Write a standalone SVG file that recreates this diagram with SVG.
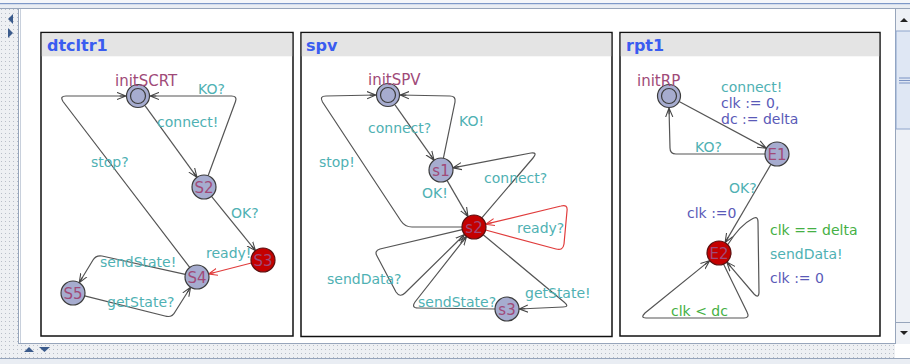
<svg xmlns="http://www.w3.org/2000/svg" width="910" height="364" viewBox="0 0 910 364">
<style>
.panel{fill:#fff;stroke:#111;stroke-width:1.5}
.hdr{fill:#e4e4e4}
.title{font-family:"DejaVu Sans",sans-serif;font-weight:bold;font-size:16px;fill:#3a5cf0}
.loc{fill:#a6accf;stroke:#3c3c3c;stroke-width:1.2}
.urg{fill:#c40000;stroke:#5a1010;stroke-width:1.2}
.inner{fill:none;stroke:#3c3c3c;stroke-width:1.2}
.nm{font-family:"DejaVu Sans",sans-serif;font-size:15px;fill:#a04a78}
.nc{font-family:"DejaVu Sans",sans-serif;font-size:15px;fill:#a04a78;text-anchor:middle}
.sy{font-family:"DejaVu Sans",sans-serif;font-size:14px;fill:#4fb1b3}
.gd{font-family:"DejaVu Sans",sans-serif;font-size:14px;fill:#45b045}
.up{font-family:"DejaVu Sans",sans-serif;font-size:14px;fill:#5a5ab8}
.e{fill:none;stroke:#555;stroke-width:1.2;marker-end:url(#ar)}
.er{fill:none;stroke:#e03c3c;stroke-width:1.2;marker-end:url(#arr)}
.chrome{fill:#eef1f6}
.cl{stroke:#97a5bb;stroke-width:1}
.tri{fill:#3b5b8c}
</style>
<defs>
<marker id="ar" viewBox="0 0 10 10" refX="10" refY="5" markerWidth="9" markerHeight="9" markerUnits="userSpaceOnUse" orient="auto">
<path d="M0,1 L10,5 L0,9 M3,5 L10,5" fill="none" stroke="#444" stroke-width="1.2"/>
</marker>
<marker id="arr" viewBox="0 0 10 10" refX="10" refY="5" markerWidth="9" markerHeight="9" markerUnits="userSpaceOnUse" orient="auto">
<path d="M0,1 L10,5 L0,9 M3,5 L10,5" fill="none" stroke="#e03c3c" stroke-width="1.2"/>
</marker>
<pattern id="dots" width="4" height="4" patternUnits="userSpaceOnUse">
<rect width="4" height="4" fill="#eef0f3"/>
<rect x="1" y="1" width="1" height="1" fill="#b8bec8"/>
</pattern>
</defs>
<rect width="910" height="364" fill="#fff"/>
<!-- window chrome -->
<g id="chrome">
<rect x="0" y="0" width="910" height="3" fill="#f4f6fa"/>
<rect x="0" y="3" width="910" height="1.5" fill="#7d98c8"/>
<rect x="0" y="4.5" width="910" height="4" fill="#e9edf3"/>
<line x1="0" y1="8.5" x2="910" y2="8.5" class="cl"/>
<rect x="0" y="9" width="18" height="355" fill="url(#dots)"/>
<line x1="18.5" y1="9" x2="18.5" y2="343" class="cl"/>
<line x1="20.5" y1="9" x2="20.5" y2="343" stroke="#c8d0dc"/>
<polygon class="tri" points="13,14 8,19 13,24"/>
<polygon class="tri" points="8,28 13,33 8,38"/>
<rect x="0" y="343" width="895" height="15" fill="url(#dots)"/>
<line x1="18" y1="343.5" x2="895" y2="343.5" class="cl"/>
<line x1="0" y1="358.5" x2="910" y2="358.5" class="cl"/>
<rect x="0" y="359" width="910" height="5" fill="#e9edf3"/>
<polygon class="tri" points="24,352 29,347 34,352"/>
<polygon class="tri" points="39,347 50,347 44.5,352"/>
<rect x="895" y="9" width="15" height="335" class="chrome"/>
<line x1="895.5" y1="9" x2="895.5" y2="344" class="cl"/>
<polygon fill="#222" points="900,22 904,18 908,22"/>
<rect x="896" y="31" width="15" height="98" fill="#dfe7f4" stroke="#8ea5cc"/>
<line x1="899" y1="78" x2="910" y2="78" stroke="#7b93c4"/>
<line x1="899" y1="80.5" x2="910" y2="80.5" stroke="#7b93c4"/>
<line x1="899" y1="83" x2="910" y2="83" stroke="#7b93c4"/>
<line x1="896" y1="322.5" x2="910" y2="322.5" class="cl"/>
<polygon fill="#222" points="900,331 908,331 904,335"/>
</g>
<!-- panels -->
<g id="panel-dtcltr1">
<rect class="panel" x="41" y="32.5" width="252" height="303.5"/>
<rect class="hdr" x="41.8" y="33.3" width="250.4" height="23"/>
<text class="title" x="47" y="51">dtcltr1</text>
</g>
<g id="panel-spv">
<rect class="panel" x="301" y="32.5" width="311" height="304"/>
<rect class="hdr" x="301.8" y="33.3" width="309.4" height="23"/>
<text class="title" x="306" y="51">spv</text>
</g>
<g id="panel-rpt1">
<rect class="panel" x="620" y="32.5" width="260" height="303.5"/>
<rect class="hdr" x="620.8" y="33.3" width="258.4" height="23"/>
<text class="title" x="626" y="51">rpt1</text>
</g>
<!-- connectors -->
<g id="edges">
<path class="e" d="M145,105.7 L197,177.3"/>
<path class="e" d="M208.1,175.7 L235.5,101.5 Q237.5,96 231.5,96 L150,96"/>
<path class="e" d="M211.5,196.3 L255.5,250.7"/>
<path class="er" d="M251.4,263 L208.6,274"/>
<path class="e" d="M189.7,267.4 L63,101.5 Q59.5,96 66,96 L126,96"/>
<path class="e" d="M185.3,274.4 L102,256 Q96,255 93,260 L79.2,282.7"/>
<path class="e" d="M84.6,295.9 L165,316 Q172,318 175,312 L190.6,287.2"/>

<path class="e" d="M395,104.8 L434.1,160.2"/>
<path class="e" d="M443.4,158.2 L455,102 Q456,96 450,96 L400,95"/>
<path class="e" d="M462,227 L412,227 Q405,227 401,221 L322.5,102 Q319,96 326,96 L376,95"/>
<path class="e" d="M447,180.4 L468,216.6"/>
<path class="e" d="M481.8,217.9 L533,158 Q538,152 531,153 L452.8,167.8"/>
<path class="er" d="M485.6,230 L556,249 Q563,251 564,244 L567,211 Q568,204 561,206 L485.7,224.2"/>
<path class="e" d="M483.2,234.7 L564,302 Q570,307 563,307 L519,309"/>
<path class="e" d="M495,309 L418,308 Q411,308 415,302 L466.6,236.4"/>
<path class="e" d="M462.3,229.7 L380,249 Q374,251 377,256 L396,292 Q400,298 405,293 L464.5,234.5"/>

<path class="e" d="M679.6,101.7 L766.4,148.3"/>
<path class="e" d="M765,154 L676,154 Q670,154 670,148 L669,108"/>
<path class="e" d="M770.9,164.4 L725.1,242.6"/>
<path class="e" d="M727.7,244.7 Q740,225 752,219 Q758,215 758,222 L759,292 Q759,299 754,294 L726.8,262.1"/>
<path class="e" d="M723.5,264 L747,312 Q750,318 744,318 L646,318 Q640,318 645,313 L709.7,260.6"/>
</g>
<!-- nodes dtcltr1 -->
<g id="initSCRT"><circle class="loc" cx="138" cy="96" r="11.5"/><circle class="inner" cx="138" cy="96" r="7.5"/><text class="nm" x="115" y="86">initSCRT</text></g>
<g id="S2"><circle class="loc" cx="204" cy="187" r="12"/><text class="nc" x="204" y="192.5">S2</text></g>
<g id="S3"><circle class="urg" cx="263" cy="260" r="12"/><text class="nc" x="263" y="265.5">S3</text></g>
<g id="S4"><circle class="loc" cx="197" cy="277" r="12"/><text class="nc" x="197" y="282.5">S4</text></g>
<g id="S5"><circle class="loc" cx="73" cy="293" r="12"/><text class="nc" x="73" y="298.5">S5</text></g>
<g id="labels-dtcltr1">
<text class="sy" x="198" y="94">KO?</text>
<text class="sy" x="157" y="127">connect!</text>
<text class="sy" x="91" y="167">stop?</text>
<text class="sy" x="231" y="218">OK?</text>
<text class="sy" x="206" y="258">ready!</text>
<text class="sy" x="100" y="267">sendState!</text>
<text class="sy" x="107" y="307">getState?</text>
</g>
<!-- nodes spv -->
<g id="initSPV"><circle class="loc" cx="388" cy="95" r="11.5"/><circle class="inner" cx="388" cy="95" r="7.5"/><text class="nm" x="368" y="85">initSPV</text></g>
<g id="s1"><circle class="loc" cx="441" cy="170" r="12"/><text class="nc" x="441" y="175.5">s1</text></g>
<g id="s2"><circle class="urg" cx="474" cy="227" r="12"/><text class="nc" x="474" y="232.5">s2</text></g>
<g id="s3"><circle class="loc" cx="507" cy="309" r="12"/><text class="nc" x="507" y="314.5">s3</text></g>
<g id="labels-spv">
<text class="sy" x="368" y="133">connect?</text>
<text class="sy" x="459" y="126">KO!</text>
<text class="sy" x="319" y="167">stop!</text>
<text class="sy" x="422" y="198">OK!</text>
<text class="sy" x="484" y="183">connect?</text>
<text class="sy" x="517" y="233">ready?</text>
<text class="sy" x="327" y="284">sendData?</text>
<text class="sy" x="418" y="307">sendState?</text>
<text class="sy" x="525" y="298">getState!</text>
</g>
<!-- nodes rpt1 -->
<g id="initRP"><circle class="loc" cx="669" cy="96" r="11.5"/><circle class="inner" cx="669" cy="96" r="7.5"/><text class="nm" x="637" y="86">initRP</text></g>
<g id="E1"><circle class="loc" cx="777" cy="154" r="12"/><text class="nc" x="777" y="159.5">E1</text></g>
<g id="E2"><circle class="urg" cx="719" cy="253" r="12"/><text class="nc" x="719" y="258.5">E2</text></g>
<g id="labels-rpt1">
<text class="sy" x="721" y="92">connect!</text>
<text class="up" x="721" y="108">clk := 0,</text>
<text class="up" x="721" y="124">dc := delta</text>
<text class="sy" x="695" y="152">KO?</text>
<text class="sy" x="729" y="193">OK?</text>
<text class="up" x="687" y="218">clk :=0</text>
<text class="gd" x="770" y="235">clk == delta</text>
<text class="sy" x="770" y="259">sendData!</text>
<text class="up" x="770" y="283">clk := 0</text>
<text class="gd" x="671" y="316">clk &lt; dc</text>
</g>
</svg>
